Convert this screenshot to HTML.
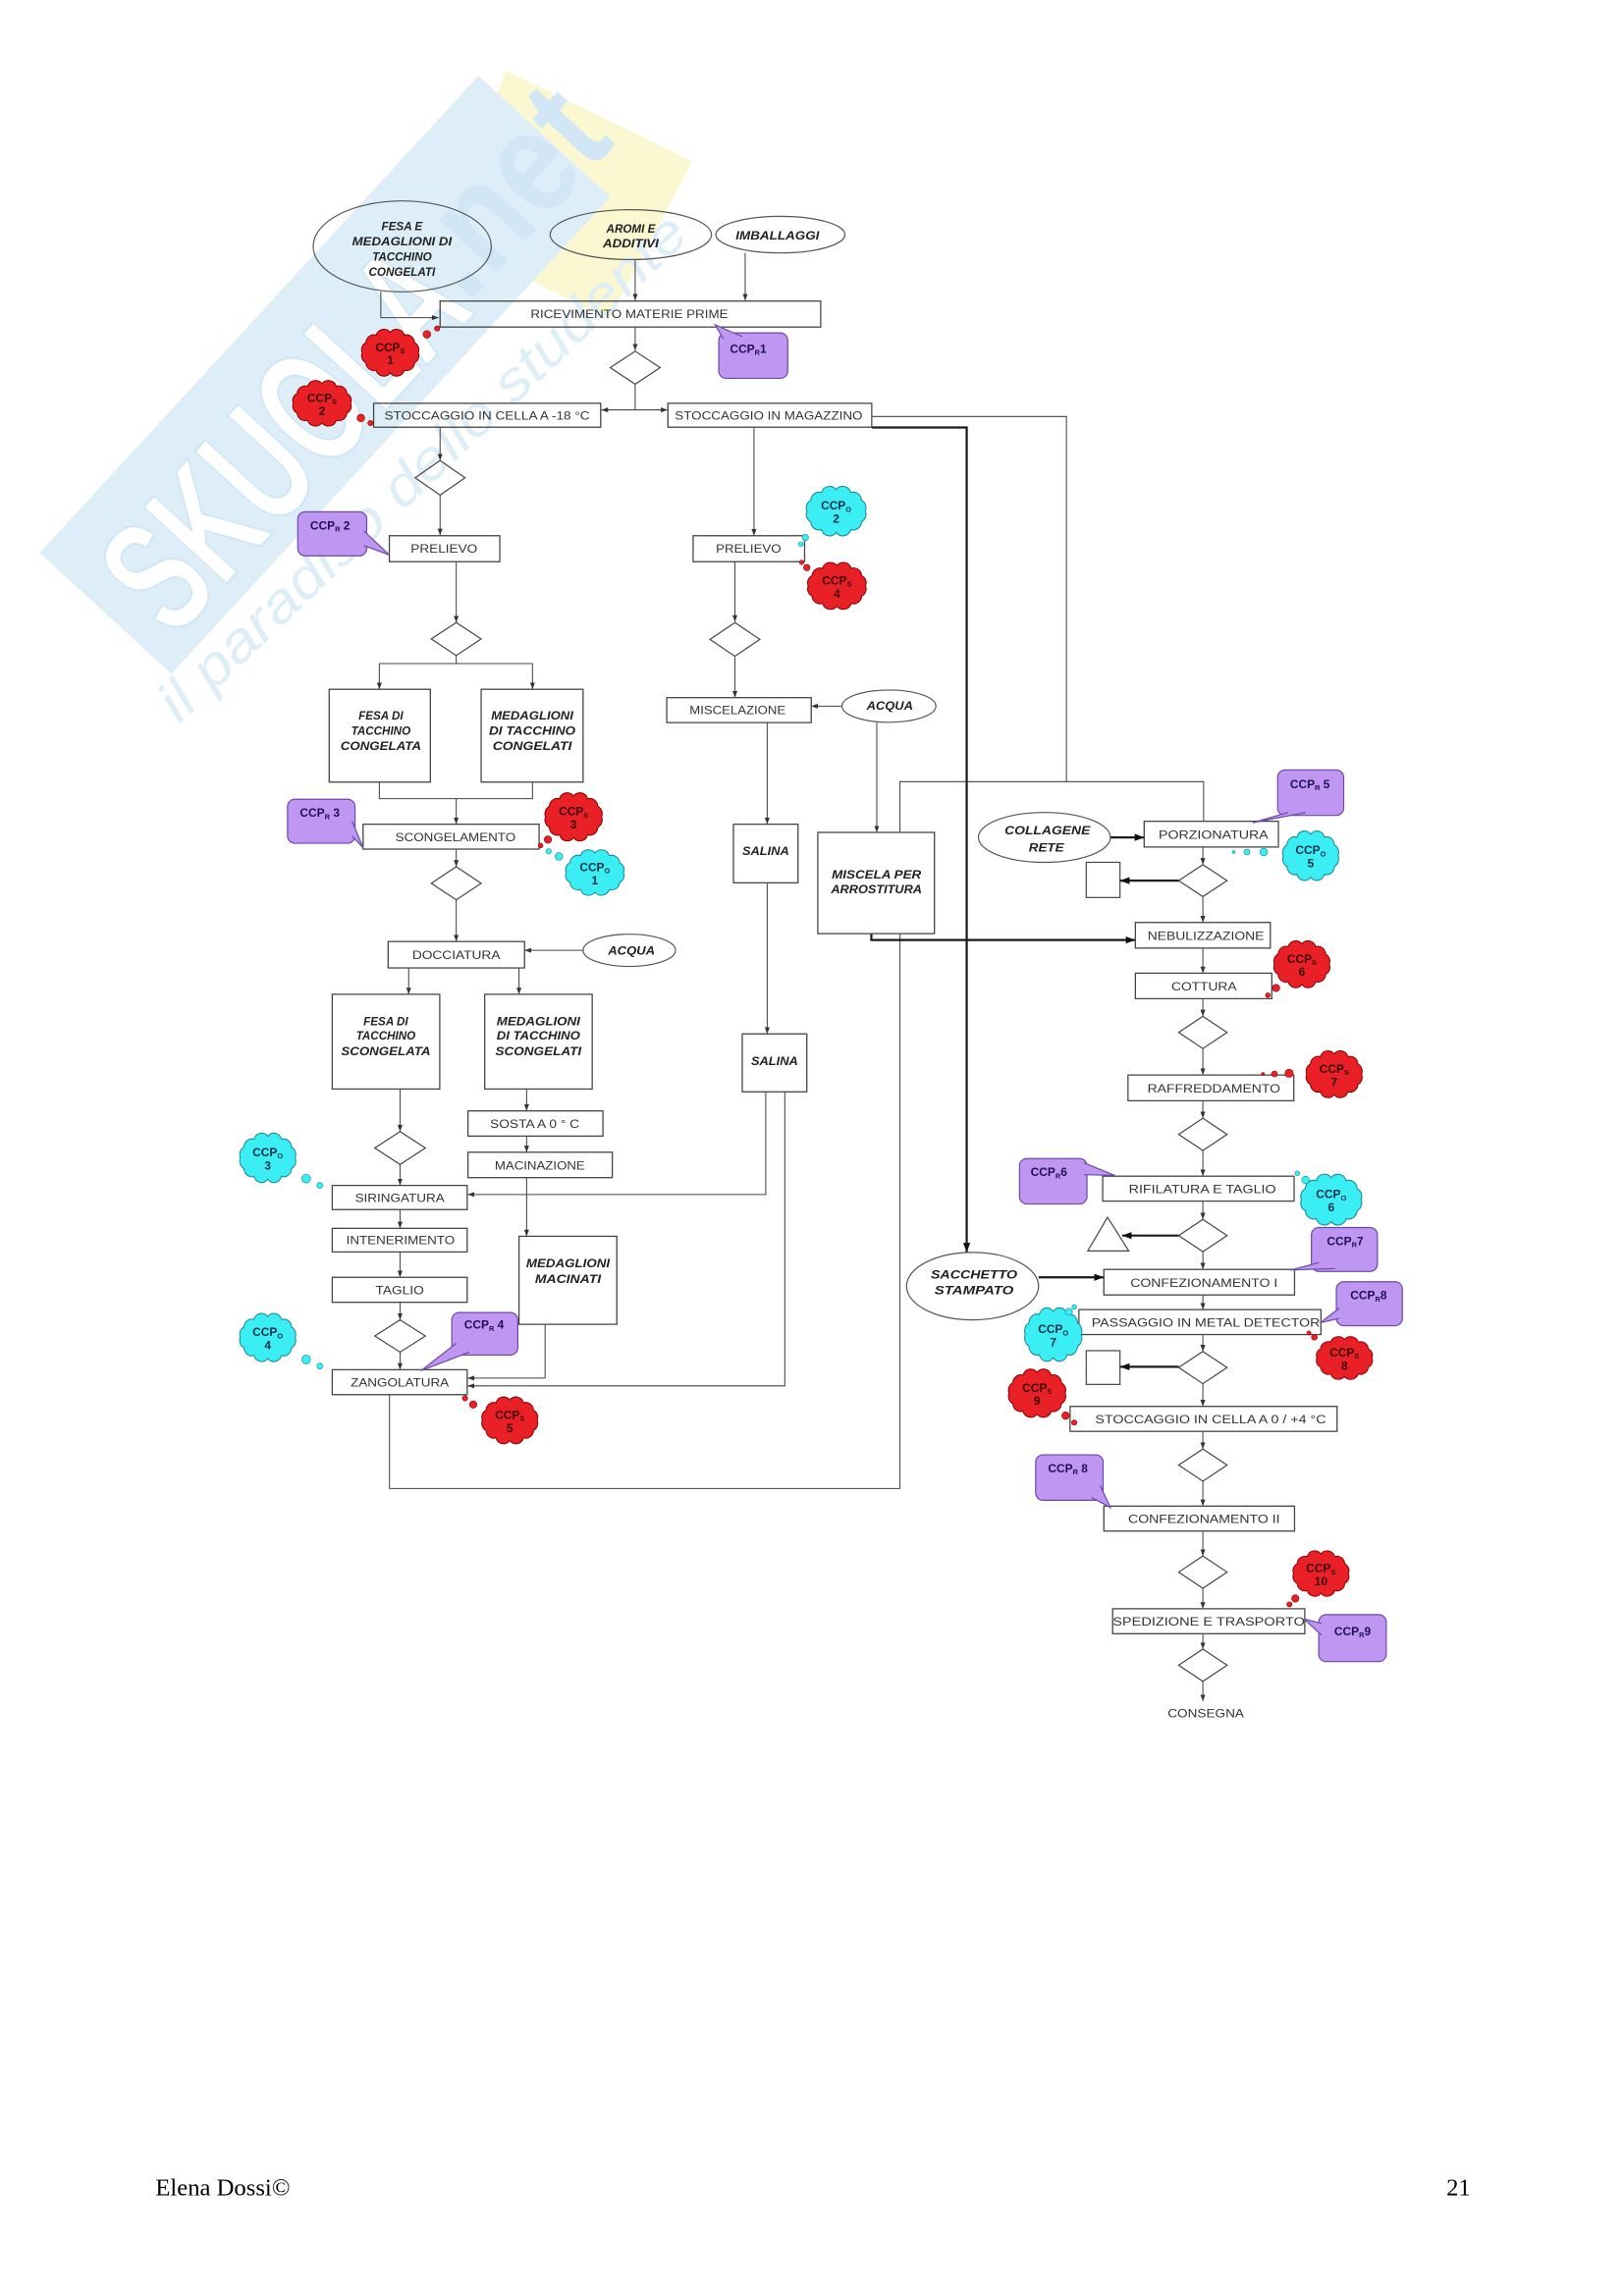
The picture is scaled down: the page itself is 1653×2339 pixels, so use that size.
<!DOCTYPE html>
<html><head><meta charset="utf-8"><style>
html,body{margin:0;padding:0;background:#fff}
svg{display:block}
.bx{fill:none;stroke:#444;stroke-width:.8}
.bxs{filter:drop-shadow(0.9px 0.9px 0 #999)}
.ln{fill:none;stroke:#444;stroke-width:.7}
.th{fill:none;stroke:#1a1a1a;stroke-width:1.5}
.el{fill:none;stroke:#555;stroke-width:.8}
.bt{font-family:"Liberation Sans",Arial,sans-serif;font-size:8.3px;fill:#333;text-anchor:middle}
.it{font-family:"Liberation Sans",Arial,sans-serif;font-size:7.8px;font-weight:bold;font-style:italic;fill:#222;text-anchor:middle}
.cr{font-family:"Liberation Sans",Arial,sans-serif;font-size:8px;font-weight:bold;fill:#3a0000;text-anchor:middle}
.cc{font-family:"Liberation Sans",Arial,sans-serif;font-size:8px;font-weight:bold;fill:#06304a;text-anchor:middle}
.cp{font-family:"Liberation Sans",Arial,sans-serif;font-size:8px;font-weight:bold;fill:#1f1050;text-anchor:middle}
.red{fill:#ea2027;stroke:#8b0000;stroke-width:1.6}
.cya{fill:#3aeef3;stroke:#1a8a9a;stroke-width:1.6}
.rb{fill:#ea2027;stroke:#8b0000;stroke-width:.4}
.cb{fill:#3aeef3;stroke:#1a8a9a;stroke-width:.4}
.pu{fill:#bf96f2;stroke:#6b4aa8;stroke-width:.8}
.ft{font-family:"Liberation Serif","Times New Roman",serif;font-size:16.5px;fill:#000}
</style></head><body>
<svg width="1653" height="2339" viewBox="0 0 1106.4 1565.6" xmlns="http://www.w3.org/2000/svg">
<defs>
<marker id="a" viewBox="0 0 8 8" refX="8" refY="4" markerWidth="4.5" markerHeight="4.5" markerUnits="userSpaceOnUse" orient="auto"><path d="M0,1 L8,4 L0,7 z" fill="#333"/></marker>
<marker id="b" viewBox="0 0 8 8" refX="8" refY="4" markerWidth="6.5" markerHeight="6.5" markerUnits="userSpaceOnUse" orient="auto"><path d="M0,1 L8,4 L0,7 z" fill="#111"/></marker>
<symbol id="cl" viewBox="-3 -3 106 81" preserveAspectRatio="none">
<path d="M94,37.5 A12.5,12.5 0 0 1 88.1,53.5 A12.5,12.5 0 0 1 72,65.2 A12.5,12.5 0 0 1 50,69.5 A12.5,12.5 0 0 1 28,65.2 A12.5,12.5 0 0 1 11.9,53.5 A12.5,12.5 0 0 1 6,37.5 A12.5,12.5 0 0 1 11.9,21.5 A12.5,12.5 0 0 1 28,9.8 A12.5,12.5 0 0 1 50,5.5 A12.5,12.5 0 0 1 72,9.8 A12.5,12.5 0 0 1 88.1,21.5 A12.5,12.5 0 0 1 94,37.5 Z"/>
</symbol>
</defs>

<!-- WATERMARK -->
<g opacity="0.8">
<polygon points="345,48 472,110 415,218 300,160" fill="#fbf6c6"/>
<g transform="translate(27,377) rotate(-47.4)">
<rect x="0" y="0" width="442" height="122" fill="#d7ebf7"/>
<text x="18" y="108" font-family="Liberation Sans, sans-serif" font-weight="bold" font-size="112" fill="#ffffff" stroke="#c4e0f2" stroke-width="1.5" textLength="305" lengthAdjust="spacingAndGlyphs">SKUOLA</text>
<text x="322" y="100" font-family="Liberation Sans, sans-serif" font-weight="bold" font-size="100" fill="#c6e2f3" textLength="150" lengthAdjust="spacingAndGlyphs">.net</text>
</g>
<g transform="translate(122,494) rotate(-43.6)">
<text x="0" y="0" font-family="Liberation Sans, sans-serif" font-style="italic" font-size="38" fill="#d6eaf6" textLength="482" lengthAdjust="spacingAndGlyphs">il paradiso dello studente</text>
</g>
</g>

<!-- CONNECTORS -->
<g class="ln">
<polyline points="259.6,199 259.6,216.6 299,216.6" marker-end="url(#a)"/>
<line x1="433" y1="176.7" x2="433" y2="205" marker-end="url(#a)"/>
<line x1="508" y1="172.5" x2="508" y2="205" marker-end="url(#a)"/>
<line x1="433" y1="223" x2="433" y2="239" marker-end="url(#a)"/>
<line x1="433" y1="262" x2="433" y2="279.5"/>
<line x1="433" y1="279.5" x2="410" y2="279.5" marker-end="url(#a)"/>
<line x1="433" y1="279.5" x2="455" y2="279.5" marker-end="url(#a)"/>
<line x1="300" y1="291.3" x2="300" y2="314" marker-end="url(#a)"/>
<line x1="300" y1="337" x2="300" y2="365" marker-end="url(#a)"/>
<line x1="311" y1="383" x2="311" y2="424.5" marker-end="url(#a)"/>
<line x1="311" y1="446.5" x2="311" y2="452.5"/>
<line x1="258.6" y1="452.5" x2="363" y2="452.5"/>
<line x1="258.6" y1="452.5" x2="258.6" y2="470" marker-end="url(#a)"/>
<line x1="363" y1="452.5" x2="363" y2="470" marker-end="url(#a)"/>
<polyline points="258.6,533.3 258.6,544.6 363,544.6 363,533.3"/>
<line x1="311" y1="544.6" x2="311" y2="562" marker-end="url(#a)"/>
<line x1="311" y1="579" x2="311" y2="591" marker-end="url(#a)"/>
<line x1="311" y1="613" x2="311" y2="642" marker-end="url(#a)"/>
<line x1="397.5" y1="648" x2="357.6" y2="648" marker-end="url(#a)"/>
<line x1="278.6" y1="660" x2="278.6" y2="678" marker-end="url(#a)"/>
<line x1="353.8" y1="660" x2="353.8" y2="678" marker-end="url(#a)"/>
<line x1="272.7" y1="742.6" x2="272.7" y2="771.6" marker-end="url(#a)"/>
<line x1="272.7" y1="794" x2="272.7" y2="808.3" marker-end="url(#a)"/>
<line x1="272.7" y1="824.8" x2="272.7" y2="837.6" marker-end="url(#a)"/>
<line x1="272.7" y1="853.7" x2="272.7" y2="871" marker-end="url(#a)"/>
<line x1="272.7" y1="888" x2="272.7" y2="900" marker-end="url(#a)"/>
<line x1="272.7" y1="922" x2="272.7" y2="934" marker-end="url(#a)"/>
<line x1="359" y1="742.6" x2="359" y2="757.5" marker-end="url(#a)"/>
<line x1="359" y1="774.7" x2="359" y2="785.7" marker-end="url(#a)"/>
<line x1="359" y1="803" x2="359" y2="843" marker-end="url(#a)"/>
<polyline points="371.6,903 371.6,939.7 318.8,939.7" marker-end="url(#a)"/>
<polyline points="522,744.5 522,814.5 318.8,814.5" marker-end="url(#a)"/>
<polyline points="535,744.5 535,945 318.8,945" marker-end="url(#a)"/>
<line x1="523" y1="492.7" x2="523" y2="562" marker-end="url(#a)"/>
<line x1="523" y1="602" x2="523" y2="705" marker-end="url(#a)"/>
<line x1="574" y1="481.5" x2="553" y2="481.5" marker-end="url(#a)"/>
<line x1="597.7" y1="492.6" x2="597.7" y2="567.6" marker-end="url(#a)"/>
<polyline points="265.5,951 265.5,1015 613.5,1015 613.5,636.6"/>
<polyline points="613.5,567.6 613.5,533 820.5,533 820.5,560"/>
<polyline points="594.3,284 727,284 727,533"/>
<line x1="514" y1="291.3" x2="514" y2="365.3" marker-end="url(#a)"/>
<line x1="501" y1="383" x2="501" y2="424" marker-end="url(#a)"/>
<line x1="501" y1="448" x2="501" y2="475.7" marker-end="url(#a)"/>
</g>
<g class="th">
<polyline points="594,636.6 594,641 774,641" marker-end="url(#b)"/>
<polyline points="594.3,291.5 659,291.5 659,854" marker-end="url(#b)"/>
<line x1="757" y1="571" x2="780" y2="571" marker-end="url(#b)"/>
<line x1="803.5" y1="600.5" x2="763.5" y2="600.5" marker-end="url(#b)"/>
<line x1="803.5" y1="842.5" x2="765" y2="842.5" marker-end="url(#b)"/>
<line x1="708" y1="871" x2="752.5" y2="871" marker-end="url(#b)"/>
<line x1="803.5" y1="932" x2="763.5" y2="932" marker-end="url(#b)"/>
</g>
<g class="ln" stroke-width="1">
<line x1="820" y1="577.6" x2="820" y2="589.6" marker-end="url(#a)"/>
<line x1="820" y1="611.4" x2="820" y2="629" marker-end="url(#a)"/>
<line x1="820" y1="646.5" x2="820" y2="663.6" marker-end="url(#a)"/>
<line x1="820" y1="681" x2="820" y2="693" marker-end="url(#a)"/>
<line x1="820" y1="715" x2="820" y2="733" marker-end="url(#a)"/>
<line x1="820" y1="750.6" x2="820" y2="762.5" marker-end="url(#a)"/>
<line x1="820" y1="784.5" x2="820" y2="802" marker-end="url(#a)"/>
<line x1="820" y1="819" x2="820" y2="831.5" marker-end="url(#a)"/>
<line x1="820" y1="853.5" x2="820" y2="865.6" marker-end="url(#a)"/>
<line x1="820" y1="883" x2="820" y2="893" marker-end="url(#a)"/>
<line x1="820" y1="910" x2="820" y2="921.5" marker-end="url(#a)"/>
<line x1="820" y1="943.5" x2="820" y2="959" marker-end="url(#a)"/>
<line x1="820" y1="976" x2="820" y2="988" marker-end="url(#a)"/>
<line x1="820" y1="1010" x2="820" y2="1027" marker-end="url(#a)"/>
<line x1="820" y1="1044" x2="820" y2="1061" marker-end="url(#a)"/>
<line x1="820" y1="1083" x2="820" y2="1097" marker-end="url(#a)"/>
<line x1="820" y1="1114" x2="820" y2="1124.5" marker-end="url(#a)"/>
<line x1="820" y1="1146.5" x2="820" y2="1160" marker-end="url(#a)"/>
</g>

<!-- DIAMONDS -->
<g fill="none" stroke="#444" stroke-width=".8">
<polygon points="433,239.5 450,250.7 433,262 416,250.7"/>
<polygon points="300,314 317,325.8 300,337.6 283,325.8"/>
<polygon points="311,424.5 328,435.7 311,447 294,435.7"/>
<polygon points="501,424.5 518,436 501,447.5 484,436"/>
<polygon points="311,591 328,602.3 311,613.6 294,602.3"/>
<polygon points="272.7,771.6 290,782.8 272.7,794 255.5,782.8"/>
<polygon points="272.7,900 290,911 272.7,922 255.5,911"/>
<polygon points="820,589.6 836.5,600.5 820,611.4 803.5,600.5"/>
<polygon points="820,693 836.5,704 820,715 803.5,704"/>
<polygon points="820,762.5 836.5,773.5 820,784.5 803.5,773.5"/>
<polygon points="820,831.5 836.5,842.5 820,853.5 803.5,842.5"/>
<polygon points="820,921.5 836.5,932.5 820,943.5 803.5,932.5"/>
<polygon points="820,988 836.5,999 820,1010 803.5,999"/>
<polygon points="820,1061 836.5,1072 820,1083 803.5,1072"/>
<polygon points="820,1124.5 836.5,1135.5 820,1146.5 803.5,1135.5"/>
<rect x="740.5" y="588" width="23" height="24"/>
<rect x="740.5" y="921" width="23" height="23"/>
<polygon points="755,830 769.5,853 741.5,853"/>
</g>

<!-- ELLIPSES -->
<g class="el">
<ellipse cx="274.2" cy="168" rx="60.7" ry="31"/>
<ellipse cx="430" cy="160" rx="55" ry="17"/>
<ellipse cx="532" cy="160" rx="44" ry="12.5"/>
<ellipse cx="429" cy="648" rx="31.5" ry="11"/>
<ellipse cx="606" cy="481.5" rx="32" ry="11"/>
<ellipse cx="712" cy="571" rx="45" ry="17"/>
<ellipse cx="663" cy="877" rx="45" ry="23"/>
</g>

<!-- BOXES -->
<g class="bx bxs">
<rect x="300" y="205.3" width="259.5" height="17.7"/>
<rect x="254.7" y="275" width="154.8" height="16.3"/>
<rect x="455.3" y="275" width="139" height="16.3"/>
<rect x="265.4" y="365.3" width="75.3" height="17.7"/>
<rect x="472.5" y="365.3" width="76" height="17.7"/>
<rect x="224.4" y="470" width="69" height="63.3"/>
<rect x="328" y="470" width="69.5" height="63.3"/>
<rect x="247.5" y="562" width="120" height="17"/>
<rect x="264.6" y="642" width="93" height="18"/>
<rect x="226.5" y="678" width="73.3" height="64.6"/>
<rect x="330.4" y="678" width="73.3" height="64.6"/>
<rect x="319" y="757.5" width="92" height="17.2"/>
<rect x="319" y="785.7" width="98.4" height="17.3"/>
<rect x="226.5" y="808.3" width="92" height="16.5"/>
<rect x="226.5" y="837.6" width="92" height="16.1"/>
<rect x="226.5" y="871" width="92" height="17"/>
<rect x="226.5" y="934" width="92" height="17"/>
<rect x="353.8" y="843" width="66.7" height="60"/>
<rect x="454.5" y="475.7" width="98.5" height="17"/>
<rect x="500" y="562" width="44" height="40"/>
<rect x="506" y="705" width="44" height="39.5"/>
<rect x="557.5" y="567.6" width="79.5" height="69"/>
<rect x="780" y="560" width="91.5" height="17.6"/>
<rect x="774" y="629" width="92" height="17.5"/>
<rect x="774" y="663.6" width="93" height="17.4"/>
<rect x="769" y="733" width="113" height="17.6"/>
<rect x="751.7" y="802" width="130.5" height="17"/>
<rect x="752.5" y="865.6" width="130" height="17.4"/>
<rect x="735.5" y="893" width="165" height="17"/>
<rect x="729.5" y="959" width="182" height="17"/>
<rect x="752.5" y="1027" width="130" height="17"/>
<rect x="758.5" y="1097" width="131" height="17"/>
</g>

<!-- BOX LABELS -->
<g class="bt">
<text x="429" y="217" textLength="134.7" lengthAdjust="spacingAndGlyphs">RICEVIMENTO MATERIE PRIME</text>
<text x="332" y="286.3" textLength="140" lengthAdjust="spacingAndGlyphs">STOCCAGGIO IN CELLA A -18 °C</text>
<text x="524" y="286.3" textLength="128" lengthAdjust="spacingAndGlyphs">STOCCAGGIO IN MAGAZZINO</text>
<text x="302.7" y="377" textLength="45.5" lengthAdjust="spacingAndGlyphs">PRELIEVO</text>
<text x="510.3" y="377" textLength="44.5" lengthAdjust="spacingAndGlyphs">PRELIEVO</text>
<text x="310.5" y="573.5" textLength="82" lengthAdjust="spacingAndGlyphs">SCONGELAMENTO</text>
<text x="311" y="654" textLength="60" lengthAdjust="spacingAndGlyphs">DOCCIATURA</text>
<text x="364.5" y="769" textLength="61" lengthAdjust="spacingAndGlyphs">SOSTA A 0 ° C</text>
<text x="368" y="797.5" textLength="61.5" lengthAdjust="spacingAndGlyphs">MACINAZIONE</text>
<text x="272.5" y="819.5" textLength="61" lengthAdjust="spacingAndGlyphs">SIRINGATURA</text>
<text x="273" y="848.5" textLength="74" lengthAdjust="spacingAndGlyphs">INTENERIMENTO</text>
<text x="272.5" y="882.5" textLength="33" lengthAdjust="spacingAndGlyphs">TAGLIO</text>
<text x="272.5" y="945.5" textLength="67" lengthAdjust="spacingAndGlyphs">ZANGOLATURA</text>
<text x="502.8" y="487" textLength="65.5" lengthAdjust="spacingAndGlyphs">MISCELAZIONE</text>
<text x="827.2" y="572" textLength="74.8" lengthAdjust="spacingAndGlyphs">PORZIONATURA</text>
<text x="822" y="641" textLength="79.4" lengthAdjust="spacingAndGlyphs">NEBULIZZAZIONE</text>
<text x="820.8" y="675.5" textLength="44.5" lengthAdjust="spacingAndGlyphs">COTTURA</text>
<text x="827.5" y="745" textLength="90.6" lengthAdjust="spacingAndGlyphs">RAFFREDDAMENTO</text>
<text x="819.7" y="813.5" textLength="100.4" lengthAdjust="spacingAndGlyphs">RIFILATURA E TAGLIO</text>
<text x="820.8" y="877.5" textLength="100.4" lengthAdjust="spacingAndGlyphs">CONFEZIONAMENTO I</text>
<text x="822" y="904.5" textLength="155.7" lengthAdjust="spacingAndGlyphs">PASSAGGIO IN METAL DETECTOR</text>
<text x="825.3" y="970.5" textLength="157.4" lengthAdjust="spacingAndGlyphs">STOCCAGGIO IN CELLA A 0 / +4 °C</text>
<text x="820.8" y="1038.5" textLength="103.4" lengthAdjust="spacingAndGlyphs">CONFEZIONAMENTO II</text>
<text x="824" y="1108.5" textLength="131" lengthAdjust="spacingAndGlyphs">SPEDIZIONE E TRASPORTO</text>
<text x="822" y="1171" textLength="52" lengthAdjust="spacingAndGlyphs">CONSEGNA</text>
</g>

<!-- ITALIC LABELS -->
<g class="it">
<text x="274" y="157">FESA E</text>
<text x="274" y="167.3" textLength="68" lengthAdjust="spacingAndGlyphs">MEDAGLIONI DI</text>
<text x="274" y="177.7">TACCHINO</text>
<text x="274" y="188">CONGELATI</text>
<text x="430" y="158.5">AROMI E</text>
<text x="430" y="168.7" textLength="38" lengthAdjust="spacingAndGlyphs">ADDITIVI</text>
<text x="530" y="163.3" textLength="57" lengthAdjust="spacingAndGlyphs">IMBALLAGGI</text>
<text x="259.6" y="490.5">FESA DI</text>
<text x="259.6" y="501">TACCHINO</text>
<text x="259.6" y="511.5" textLength="55" lengthAdjust="spacingAndGlyphs">CONGELATA</text>
<text x="362.8" y="490.5" textLength="56" lengthAdjust="spacingAndGlyphs">MEDAGLIONI</text>
<text x="362.8" y="501" textLength="59" lengthAdjust="spacingAndGlyphs">DI TACCHINO</text>
<text x="362.8" y="511.5" textLength="54" lengthAdjust="spacingAndGlyphs">CONGELATI</text>
<text x="263" y="699">FESA DI</text>
<text x="263" y="709">TACCHINO</text>
<text x="263" y="719.5" textLength="61" lengthAdjust="spacingAndGlyphs">SCONGELATA</text>
<text x="367" y="699" textLength="57" lengthAdjust="spacingAndGlyphs">MEDAGLIONI</text>
<text x="367" y="709" textLength="57" lengthAdjust="spacingAndGlyphs">DI TACCHINO</text>
<text x="367" y="719.5" textLength="58.6" lengthAdjust="spacingAndGlyphs">SCONGELATI</text>
<text x="387.2" y="864" textLength="57" lengthAdjust="spacingAndGlyphs">MEDAGLIONI</text>
<text x="387.2" y="874.7" textLength="45" lengthAdjust="spacingAndGlyphs">MACINATI</text>
<text x="430.5" y="651" textLength="32" lengthAdjust="spacingAndGlyphs">ACQUA</text>
<text x="522" y="583" textLength="32" lengthAdjust="spacingAndGlyphs">SALINA</text>
<text x="528" y="726.3" textLength="32" lengthAdjust="spacingAndGlyphs">SALINA</text>
<text x="597.5" y="599" textLength="61" lengthAdjust="spacingAndGlyphs">MISCELA PER</text>
<text x="597.5" y="609" textLength="62" lengthAdjust="spacingAndGlyphs">ARROSTITURA</text>
<text x="606.6" y="484" textLength="31.7" lengthAdjust="spacingAndGlyphs">ACQUA</text>
<text x="714" y="569" textLength="58.4" lengthAdjust="spacingAndGlyphs">COLLAGENE</text>
<text x="713.3" y="580.7" textLength="24" lengthAdjust="spacingAndGlyphs">RETE</text>
<text x="664" y="872" textLength="59" lengthAdjust="spacingAndGlyphs">SACCHETTO</text>
<text x="664" y="882.7" textLength="54" lengthAdjust="spacingAndGlyphs">STAMPATO</text>
</g>

<!-- PURPLE CALLOUTS -->
<g>
<rect class="pu" x="490" y="227" width="47" height="31" rx="5"/><path class="pu" d="M493,231 L487.5,221.5 L506,229.5" />
<rect class="pu" x="203" y="349" width="47" height="30" rx="5"/><path class="pu" d="M248,362 L265.5,378.5 L248,372"/>
<rect class="pu" x="196" y="545" width="46" height="30" rx="5"/><path class="pu" d="M240,560 L247.5,578 L240,570"/>
<rect class="pu" x="308" y="895" width="45" height="29" rx="5"/><path class="pu" d="M311,916 L287,934.6 L320,922"/>
<rect class="pu" x="871" y="525" width="45" height="31" rx="5"/><path class="pu" d="M878,554 L854,561 L890,554"/>
<rect class="pu" x="695" y="790" width="46" height="31" rx="5"/><path class="pu" d="M739,793 L760,801.5 L739,801"/>
<rect class="pu" x="894" y="837" width="45" height="30" rx="5"/><path class="pu" d="M899,861 L880,866 L910,865"/>
<rect class="pu" x="911" y="874" width="45" height="30" rx="5"/><path class="pu" d="M913,892 L900,902 L913,899"/>
<rect class="pu" x="706" y="992" width="46" height="31" rx="5"/><path class="pu" d="M750,1013 L757,1028 L744,1021"/>
<rect class="pu" x="899" y="1101" width="46" height="32" rx="5"/><path class="pu" d="M901,1107 L889,1104 L901,1115"/>
</g>
<g class="cp">
<text x="510" y="240.5">CCP<tspan font-size="5" dy="1.5">R</tspan><tspan dy="-1.5">1</tspan></text>
<text x="225" y="361">CCP<tspan font-size="5" dy="1.5">R</tspan><tspan dy="-1.5"> 2</tspan></text>
<text x="218" y="557">CCP<tspan font-size="5" dy="1.5">R</tspan><tspan dy="-1.5"> 3</tspan></text>
<text x="330" y="906">CCP<tspan font-size="5" dy="1.5">R</tspan><tspan dy="-1.5"> 4</tspan></text>
<text x="893" y="537.5">CCP<tspan font-size="5" dy="1.5">R</tspan><tspan dy="-1.5"> 5</tspan></text>
<text x="715" y="802">CCP<tspan font-size="5" dy="1.5">R</tspan><tspan dy="-1.5">6</tspan></text>
<text x="917" y="849">CCP<tspan font-size="5" dy="1.5">R</tspan><tspan dy="-1.5">7</tspan></text>
<text x="933" y="886">CCP<tspan font-size="5" dy="1.5">R</tspan><tspan dy="-1.5">8</tspan></text>
<text x="728" y="1004">CCP<tspan font-size="5" dy="1.5">R</tspan><tspan dy="-1.5"> 8</tspan></text>
<text x="922" y="1115">CCP<tspan font-size="5" dy="1.5">R</tspan><tspan dy="-1.5">9</tspan></text>
</g>

<!-- RED CLOUDS -->
<g>
<use href="#cl" class="red" x="243" y="223" width="46" height="35"/>
<circle class="rb" cx="291" cy="228" r="2.6"/><circle class="rb" cx="298" cy="224" r="1.8"/>
<use href="#cl" class="red" x="196" y="258" width="47" height="34"/>
<circle class="rb" cx="246" cy="285" r="2.6"/><circle class="rb" cx="252.5" cy="288.5" r="1.8"/>
<use href="#cl" class="red" x="368" y="539" width="46" height="36"/>
<circle class="rb" cx="373.5" cy="572.5" r="2.5"/><circle class="rb" cx="368.5" cy="576.5" r="1.6"/>
<use href="#cl" class="red" x="547" y="382" width="47" height="35"/>
<circle class="rb" cx="550" cy="387" r="2.2"/><circle class="rb" cx="546.5" cy="383.5" r="1.5"/>
<use href="#cl" class="red" x="325" y="951" width="45" height="35"/>
<circle class="rb" cx="322.6" cy="957.7" r="2.5"/><circle class="rb" cx="317" cy="953.5" r="1.8"/>
<use href="#cl" class="red" x="865" y="640" width="45" height="35"/>
<circle class="rb" cx="869.9" cy="673.7" r="2.5"/><circle class="rb" cx="864.3" cy="678.6" r="1.6"/>
<use href="#cl" class="red" x="887" y="715" width="45" height="35"/>
<circle class="rb" cx="878.8" cy="731.8" r="2.8"/><circle class="rb" cx="868.8" cy="732.3" r="2"/><circle class="rb" cx="861" cy="732.3" r="1"/>
<use href="#cl" class="red" x="894" y="910" width="45" height="32"/>
<circle class="rb" cx="896" cy="911.8" r="2"/><circle class="rb" cx="892.3" cy="909" r="1.4"/>
<use href="#cl" class="red" x="684" y="932" width="46" height="36"/>
<circle class="rb" cx="726.4" cy="965.3" r="2.6"/><circle class="rb" cx="732.3" cy="970" r="1.8"/>
<use href="#cl" class="red" x="878" y="1056" width="45" height="34"/>
<circle class="rb" cx="883" cy="1090" r="2.5"/><circle class="rb" cx="879" cy="1094" r="1.8"/>
</g>
<g class="cr">
<text x="266" y="239.5">CCP<tspan font-size="5" dy="1.5">S</tspan></text><text x="266" y="248.5">1</text>
<text x="219.5" y="274">CCP<tspan font-size="5" dy="1.5">S</tspan></text><text x="219.5" y="283">2</text>
<text x="391" y="556">CCP<tspan font-size="5" dy="1.5">S</tspan></text><text x="391" y="565">3</text>
<text x="570.5" y="398.5">CCP<tspan font-size="5" dy="1.5">S</tspan></text><text x="570.5" y="407.5">4</text>
<text x="347.5" y="967.5">CCP<tspan font-size="5" dy="1.5">S</tspan></text><text x="347.5" y="976.5">5</text>
<text x="887.5" y="656.5">CCP<tspan font-size="5" dy="1.5">S</tspan></text><text x="887.5" y="665.5">6</text>
<text x="909.5" y="731.5">CCP<tspan font-size="5" dy="1.5">S</tspan></text><text x="909.5" y="740.5">7</text>
<text x="916.5" y="925">CCP<tspan font-size="5" dy="1.5">S</tspan></text><text x="916.5" y="934">8</text>
<text x="707" y="949">CCP<tspan font-size="5" dy="1.5">S</tspan></text><text x="707" y="958">9</text>
<text x="900.5" y="1072">CCP<tspan font-size="5" dy="1.5">S</tspan></text><text x="900.5" y="1081">10</text>
</g>

<!-- CYAN CLOUDS -->
<g>
<use href="#cl" class="cya" x="382" y="578" width="47" height="34"/>
<circle class="cb" cx="374" cy="580.5" r="1.8"/><circle class="cb" cx="381" cy="584" r="2.6"/>
<use href="#cl" class="cya" x="546" y="330" width="48" height="37"/>
<circle class="cb" cx="549" cy="366.5" r="2.2"/><circle class="cb" cx="546" cy="371" r="1.6"/>
<use href="#cl" class="cya" x="160" y="771" width="45" height="37"/>
<circle class="cb" cx="208.7" cy="803.7" r="3"/><circle class="cb" cx="218" cy="808.3" r="2"/>
<use href="#cl" class="cya" x="160" y="894" width="45" height="36"/>
<circle class="cb" cx="208.7" cy="927" r="3"/><circle class="cb" cx="218" cy="931.5" r="2"/>
<use href="#cl" class="cya" x="871" y="565" width="45" height="37"/>
<circle class="cb" cx="841" cy="581" r="1"/><circle class="cb" cx="850" cy="581" r="2"/><circle class="cb" cx="861.5" cy="581" r="2.6"/>
<use href="#cl" class="cya" x="883" y="799" width="49" height="38"/>
<circle class="cb" cx="884.4" cy="800" r="1.6"/><circle class="cb" cx="890" cy="804.6" r="2.6"/>
<use href="#cl" class="cya" x="695" y="890" width="46" height="40"/>
<circle class="cb" cx="732.3" cy="891.2" r="1.6"/><circle class="cb" cx="728.7" cy="894.5" r="2.4"/>
</g>
<g class="cc">
<text x="405.5" y="594">CCP<tspan font-size="5" dy="1.5">O</tspan></text><text x="405.5" y="603">1</text>
<text x="570" y="347.5">CCP<tspan font-size="5" dy="1.5">O</tspan></text><text x="570" y="356.5">2</text>
<text x="182.5" y="788.5">CCP<tspan font-size="5" dy="1.5">O</tspan></text><text x="182.5" y="797.5">3</text>
<text x="182.5" y="911">CCP<tspan font-size="5" dy="1.5">O</tspan></text><text x="182.5" y="920">4</text>
<text x="893.5" y="582.5">CCP<tspan font-size="5" dy="1.5">O</tspan></text><text x="893.5" y="591.5">5</text>
<text x="907.5" y="817">CCP<tspan font-size="5" dy="1.5">O</tspan></text><text x="907.5" y="826">6</text>
<text x="718" y="909">CCP<tspan font-size="5" dy="1.5">O</tspan></text><text x="718" y="918">7</text>
</g>

<!-- FOOTER -->
<text class="ft" x="106" y="1497">Elena Dossi©</text>
<text class="ft" x="986" y="1497">21</text>
</svg>
</body></html>
